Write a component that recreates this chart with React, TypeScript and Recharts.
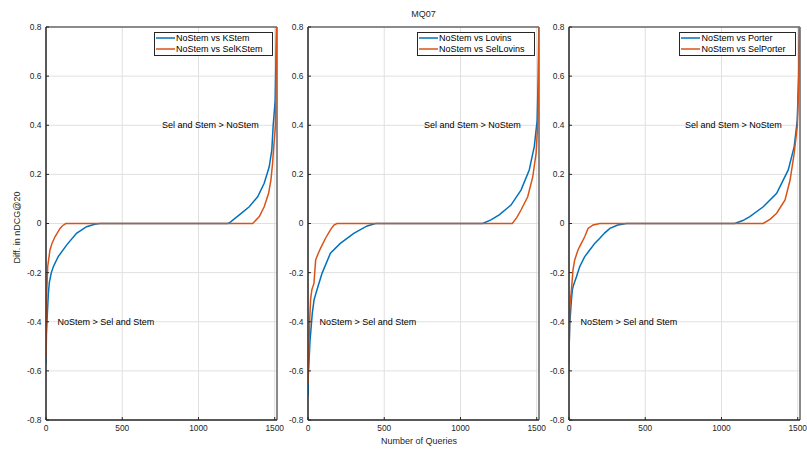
import { LineChart, Line, XAxis, YAxis, CartesianGrid, Legend, ReferenceDot, ReferenceArea } from "recharts";

const XMAX = 1515;
const X_TICKS = [0, 500, 1000, 1500];
const Y_TICKS = [-0.8, -0.6, -0.4, -0.2, 0, 0.2, 0.4, 0.6, 0.8];

type Pt = { q: number; d: number };

// NoStem vs KStem / SelKStem
const kstem: Pt[] = [
  { q: 0, d: -0.57 }, { q: 3, d: -0.45 }, { q: 8, d: -0.38 }, { q: 15, d: -0.29 },
  { q: 22, d: -0.24 }, { q: 35, d: -0.2 }, { q: 48, d: -0.176 }, { q: 80, d: -0.135 },
  { q: 135, d: -0.088 }, { q: 200, d: -0.04 }, { q: 266, d: -0.013 }, { q: 320, d: -0.003 },
  { q: 353, d: 0 }, { q: 1192, d: 0 }, { q: 1203, d: 0.003 }, { q: 1268, d: 0.035 },
  { q: 1333, d: 0.068 }, { q: 1388, d: 0.109 }, { q: 1431, d: 0.164 }, { q: 1464, d: 0.231 },
  { q: 1481, d: 0.3 }, { q: 1490, d: 0.4 }, { q: 1503, d: 0.5 }, { q: 1512, d: 0.8 },
];
const selKstem: Pt[] = [
  { q: 0, d: -0.55 }, { q: 2, d: -0.4 }, { q: 5, d: -0.28 }, { q: 11, d: -0.176 },
  { q: 26, d: -0.108 }, { q: 40, d: -0.08 }, { q: 59, d: -0.054 }, { q: 92, d: -0.02 },
  { q: 110, d: -0.008 }, { q: 130, d: 0 }, { q: 1355, d: 0 }, { q: 1399, d: 0.028 },
  { q: 1431, d: 0.068 }, { q: 1460, d: 0.123 }, { q: 1475, d: 0.177 }, { q: 1486, d: 0.245 },
  { q: 1492, d: 0.3 }, { q: 1505, d: 0.4 }, { q: 1513, d: 0.8 },
];

// NoStem vs Lovins / SelLovins
const lovins: Pt[] = [
  { q: 0, d: -0.7 }, { q: 2, d: -0.62 }, { q: 6, d: -0.57 }, { q: 13, d: -0.48 },
  { q: 28, d: -0.366 }, { q: 40, d: -0.31 }, { q: 59, d: -0.27 }, { q: 92, d: -0.203 },
  { q: 147, d: -0.121 }, { q: 212, d: -0.081 }, { q: 300, d: -0.04 }, { q: 388, d: -0.01 },
  { q: 443, d: 0 }, { q: 1145, d: 0 }, { q: 1200, d: 0.015 }, { q: 1254, d: 0.035 },
  { q: 1331, d: 0.075 }, { q: 1397, d: 0.136 }, { q: 1451, d: 0.218 }, { q: 1484, d: 0.313 },
  { q: 1503, d: 0.42 }, { q: 1510, d: 0.6 }, { q: 1514, d: 0.8 },
];
const selLovins: Pt[] = [
  { q: 0, d: -0.65 }, { q: 3, d: -0.56 }, { q: 6, d: -0.5 }, { q: 12, d: -0.38 },
  { q: 17, d: -0.31 }, { q: 25, d: -0.27 }, { q: 39, d: -0.244 }, { q: 50, d: -0.149 },
  { q: 65, d: -0.125 }, { q: 83, d: -0.1 }, { q: 115, d: -0.06 }, { q: 147, d: -0.026 },
  { q: 170, d: -0.006 }, { q: 190, d: 0 }, { q: 1340, d: 0 }, { q: 1370, d: 0.025 },
  { q: 1397, d: 0.055 }, { q: 1441, d: 0.109 }, { q: 1474, d: 0.19 }, { q: 1496, d: 0.286 },
  { q: 1508, d: 0.42 }, { q: 1512, d: 0.6 }, { q: 1515, d: 0.8 },
];

// NoStem vs Porter / SelPorter
const porter: Pt[] = [
  { q: 0, d: -0.57 }, { q: 1, d: -0.5 }, { q: 5, d: -0.41 }, { q: 16, d: -0.31 },
  { q: 22, d: -0.27 }, { q: 30, d: -0.25 }, { q: 49, d: -0.217 }, { q: 70, d: -0.176 },
  { q: 103, d: -0.135 }, { q: 136, d: -0.108 }, { q: 170, d: -0.08 }, { q: 202, d: -0.06 },
  { q: 235, d: -0.038 }, { q: 268, d: -0.02 }, { q: 320, d: -0.006 }, { q: 377, d: 0 },
  { q: 1087, d: 0 }, { q: 1140, d: 0.012 }, { q: 1186, d: 0.028 }, { q: 1274, d: 0.068 },
  { q: 1362, d: 0.123 }, { q: 1438, d: 0.218 }, { q: 1477, d: 0.313 }, { q: 1497, d: 0.42 },
  { q: 1506, d: 0.6 }, { q: 1510, d: 0.8 },
];
const selPorter: Pt[] = [
  { q: 0, d: -0.57 }, { q: 5, d: -0.34 }, { q: 16, d: -0.27 }, { q: 26, d: -0.19 },
  { q: 37, d: -0.149 }, { q: 59, d: -0.108 }, { q: 70, d: -0.094 }, { q: 103, d: -0.054 },
  { q: 125, d: -0.02 }, { q: 158, d: -0.006 }, { q: 202, d: 0 }, { q: 1274, d: 0 },
  { q: 1320, d: 0.018 }, { q: 1362, d: 0.042 }, { q: 1417, d: 0.096 }, { q: 1450, d: 0.177 },
  { q: 1477, d: 0.286 }, { q: 1497, d: 0.394 }, { q: 1506, d: 0.55 }, { q: 1511, d: 0.8 },
];

const BLUE = "#0072BD";
const ORANGE = "#D95319";
const AXIS = "#262626";
const FONT = "'Liberation Sans', Arial, Helvetica, sans-serif";

// layout
const PLOT_W = 231;
const PLOT_TOP = 27;
const PLOT_BOTTOM = 420;
const ML = 35; // y axis width + margin
const MR = 14;
const H = 449;

const fmtY = (v: number) => (v === 0 ? "0" : v.toFixed(1));

function LegendBox({ payload }: any) {
  return (
    <div
      style={{
        border: `1px solid ${AXIS}`,
        background: "#fff",
        padding: "0 9px 0 1px",
        fontFamily: FONT,
        fontSize: 9,
        color: "#000",
      }}
    >
      {(payload || []).map((p: any) => (
        <div key={p.value} style={{ display: "flex", alignItems: "center", height: 11, whiteSpace: "nowrap" }}>
          <svg width={19} height={4} style={{ marginRight: 1 }}>
            <line x1={0} y1={2} x2={19} y2={2} stroke={p.color} strokeWidth={1.5} />
          </svg>
          <span>{p.value}</span>
        </div>
      ))}
    </div>
  );
}

type PanelProps = {
  left: number;
  a: Pt[];
  b: Pt[];
  aName: string;
  bName: string;
};

function Panel({ left, a, b, aName, bName }: PanelProps) {
  return (
    <div style={{ position: "absolute", left: left - ML, top: 0 }}>
      <LineChart
        width={ML + PLOT_W + MR}
        height={H}
        margin={{ top: PLOT_TOP, right: MR, bottom: H - PLOT_BOTTOM - 20, left: ML - 30 }}
      >
        <CartesianGrid stroke="#e0e0e0" strokeWidth={1} />
        <XAxis
          dataKey="q"
          type="number"
          domain={[0, XMAX]}
          ticks={X_TICKS}
          allowDataOverflow
          height={20}
          tickSize={-3}
          tickMargin={8.5}
          axisLine={{ stroke: AXIS }}
          tickLine={{ stroke: AXIS }}
          tick={{ fontSize: 8.4, fill: AXIS, fontFamily: FONT }}
        />
        <XAxis
          xAxisId="top"
          orientation="top"
          type="number"
          domain={[0, XMAX]}
          ticks={X_TICKS}
          allowDataOverflow
          height={0}
          tickSize={-3}
          tick={false}
          axisLine={{ stroke: AXIS }}
          tickLine={{ stroke: AXIS }}
        />
        <YAxis
          type="number"
          domain={[-0.8, 0.8]}
          ticks={Y_TICKS}
          allowDataOverflow
          width={30}
          tickSize={-3}
          tickMargin={7.5}
          tickFormatter={fmtY}
          axisLine={{ stroke: AXIS }}
          tickLine={{ stroke: AXIS }}
          tick={{ fontSize: 8.4, fill: AXIS, fontFamily: FONT }}
        />
        <YAxis
          yAxisId="right"
          orientation="right"
          type="number"
          domain={[-0.8, 0.8]}
          ticks={Y_TICKS}
          allowDataOverflow
          width={0}
          tickSize={-3}
          tick={false}
          axisLine={{ stroke: AXIS }}
          tickLine={{ stroke: AXIS }}
        />
        <Legend
          layout="vertical"
          verticalAlign="middle"
          align="center"
          wrapperStyle={{ top: 31.5, right: MR + 4, left: "auto", width: "auto" }}
          content={LegendBox}
        />
        <ReferenceDot
          x={760}
          y={0.4}
          r={0}
          fill="none"
          stroke="none"
          label={{ value: "Sel and Stem > NoStem", position: "right", offset: 0, fontSize: 9, fill: "#000", fontFamily: FONT }}
        />
        <ReferenceDot
          x={75}
          y={-0.4}
          r={0}
          fill="none"
          stroke="none"
          label={{ value: "NoStem > Sel and Stem", position: "right", offset: 0, fontSize: 9, fill: "#000", fontFamily: FONT }}
        />
        <Line data={a} dataKey="d" name={aName} stroke={BLUE} strokeWidth={1.5} dot={false} isAnimationActive={false} />
        <Line data={b} dataKey="d" name={bName} stroke={ORANGE} strokeWidth={1.5} dot={false} isAnimationActive={false} />
        <ReferenceArea
          x1={0}
          x2={XMAX}
          y1={-0.8}
          y2={0.8}
          fill="none"
          fillOpacity={0}
          stroke={AXIS}
          strokeWidth={1}
          ifOverflow="visible"
        />
      </LineChart>
    </div>
  );
}

export default function App() {
  return (
    <div
      style={{
        position: "absolute",
        left: 0,
        top: 0,
        width: 807,
        height: 449,
        background: "#fff",
        fontFamily: FONT,
        overflow: "hidden",
      }}
    >
      <Panel left={45.5} a={kstem} b={selKstem} aName="NoStem vs KStem" bName="NoStem vs SelKStem" />
      <Panel left={307.5} a={lovins} b={selLovins} aName="NoStem vs Lovins" bName="NoStem vs SelLovins" />
      <Panel left={568.5} a={porter} b={selPorter} aName="NoStem vs Porter" bName="NoStem vs SelPorter" />

      <div
        style={{ position: "absolute", left: 373.5, top: 9, width: 100, textAlign: "center", fontSize: 9, lineHeight: "11px", color: AXIS }}
      >
        MQ07
      </div>
      <div
        style={{ position: "absolute", left: 369, top: 436, width: 100, textAlign: "center", fontSize: 9, lineHeight: "11px", color: AXIS, whiteSpace: "nowrap" }}
      >
        Number of Queries
      </div>
      <div
        style={{
          position: "absolute",
          left: -43,
          top: 221.5,
          width: 120,
          textAlign: "center",
          fontSize: 9,
          lineHeight: "11px",
          color: AXIS,
          transform: "rotate(-90deg)",
          whiteSpace: "nowrap",
        }}
      >
        Diff. in nDCG@20
      </div>
    </div>
  );
}
